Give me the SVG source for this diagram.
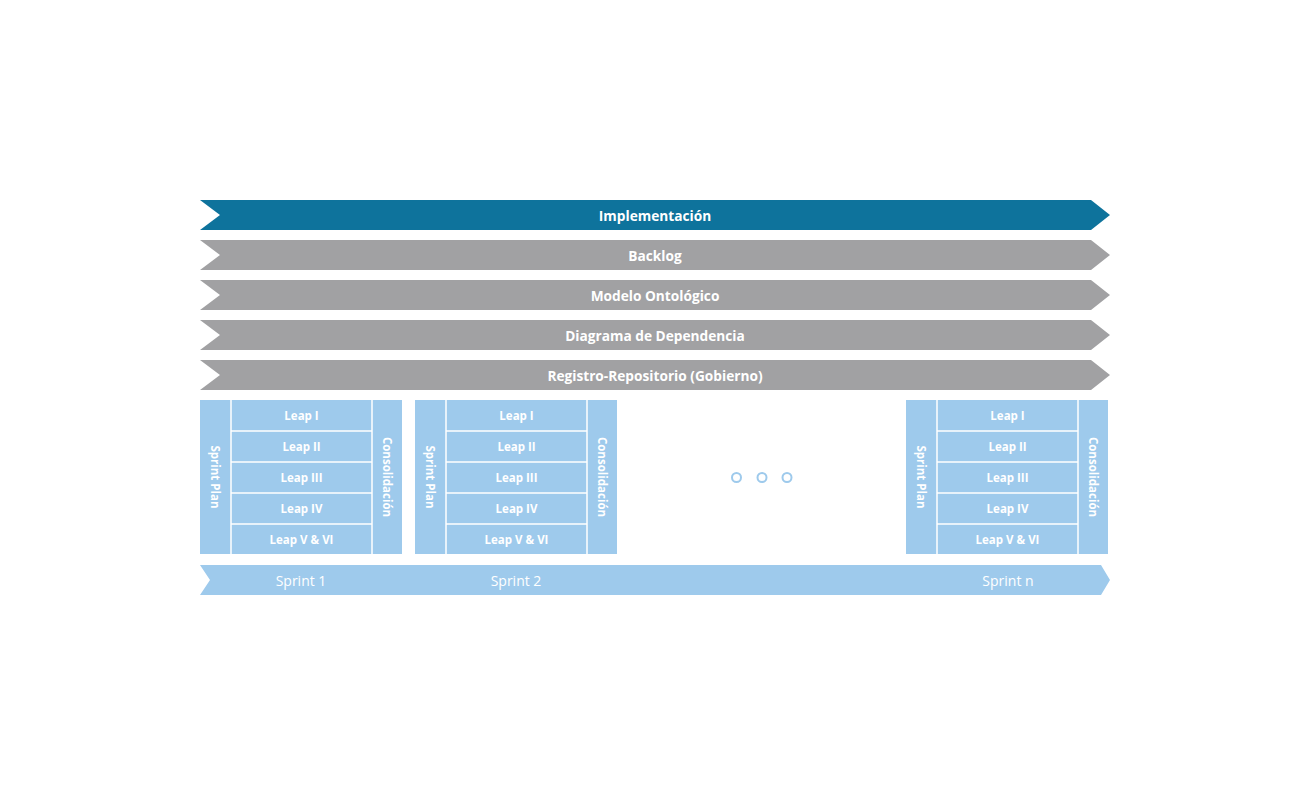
<svg xmlns="http://www.w3.org/2000/svg" width="1311" height="796" viewBox="0 0 1311 796">
<style>
.bar{fill:#a1a1a3}
.dark{fill:#0e739c}
.lb{fill:#9ecaec}
.sep{stroke:#ffffff;stroke-width:1.5;fill:none}
.bt{font-family:"Open Sans","Liberation Sans",sans-serif;font-weight:bold;font-size:13.7px;fill:#ffffff;text-anchor:middle}
.lt{font-family:"Open Sans","Liberation Sans",sans-serif;font-weight:bold;font-size:11.5px;fill:#ffffff;text-anchor:middle}
.st{font-family:"Open Sans","Liberation Sans",sans-serif;font-size:14px;fill:#ffffff;text-anchor:middle}
.dot{fill:none;stroke:#9ecaec;stroke-width:2}
</style>
<rect width="1311" height="796" fill="#ffffff"/>
<g id="implementacion">
<polygon class="dark" points="200,200 1091,200 1110,215 1091,230 200,230 220,215"/>
<text class="bt" x="655" y="220.5">Implementación</text>
</g>
<g id="backlog">
<polygon class="bar" points="200,240 1091,240 1110,255 1091,270 200,270 220,255"/>
<text class="bt" x="655" y="260.5">Backlog</text>
</g>
<g id="modelo">
<polygon class="bar" points="200,280 1091,280 1110,295 1091,310 200,310 220,295"/>
<text class="bt" x="655" y="300.5">Modelo Ontológico</text>
</g>
<g id="diagrama">
<polygon class="bar" points="200,320 1091,320 1110,335 1091,350 200,350 220,335"/>
<text class="bt" x="655" y="340.5">Diagrama de Dependencia</text>
</g>
<g id="registro">
<polygon class="bar" points="200,360 1091,360 1110,375 1091,390 200,390 220,375"/>
<text class="bt" x="655" y="380.5">Registro-Repositorio (Gobierno)</text>
</g>
<g id="sprint1">
<rect class="lb" x="200" y="400" width="202" height="154"/>
<line class="sep" x1="231" y1="400" x2="231" y2="554"/>
<line class="sep" x1="372" y1="400" x2="372" y2="554"/>
<line class="sep" x1="231" y1="431" x2="372" y2="431"/>
<line class="sep" x1="231" y1="462" x2="372" y2="462"/>
<line class="sep" x1="231" y1="493" x2="372" y2="493"/>
<line class="sep" x1="231" y1="524" x2="372" y2="524"/>
<text class="lt" x="301.5" y="420">Leap I</text>
<text class="lt" x="301.5" y="451">Leap II</text>
<text class="lt" x="301.5" y="482">Leap III</text>
<text class="lt" x="301.5" y="513">Leap IV</text>
<text class="lt" x="301.5" y="544">Leap V &amp; VI</text>
<text class="lt" transform="translate(211,477) rotate(90)">Sprint Plan</text>
<text class="lt" transform="translate(383,477) rotate(90)">Consolidación</text>
</g>
<g id="sprint2">
<rect class="lb" x="415" y="400" width="202" height="154"/>
<line class="sep" x1="446" y1="400" x2="446" y2="554"/>
<line class="sep" x1="587" y1="400" x2="587" y2="554"/>
<line class="sep" x1="446" y1="431" x2="587" y2="431"/>
<line class="sep" x1="446" y1="462" x2="587" y2="462"/>
<line class="sep" x1="446" y1="493" x2="587" y2="493"/>
<line class="sep" x1="446" y1="524" x2="587" y2="524"/>
<text class="lt" x="516.5" y="420">Leap I</text>
<text class="lt" x="516.5" y="451">Leap II</text>
<text class="lt" x="516.5" y="482">Leap III</text>
<text class="lt" x="516.5" y="513">Leap IV</text>
<text class="lt" x="516.5" y="544">Leap V &amp; VI</text>
<text class="lt" transform="translate(426,477) rotate(90)">Sprint Plan</text>
<text class="lt" transform="translate(598,477) rotate(90)">Consolidación</text>
</g>
<g id="ellipsis">
<circle class="dot" cx="736.5" cy="477.5" r="4.5"/>
<circle class="dot" cx="762" cy="477.5" r="4.5"/>
<circle class="dot" cx="787" cy="477.5" r="4.5"/>
</g>
<g id="sprintn">
<rect class="lb" x="906" y="400" width="202" height="154"/>
<line class="sep" x1="937" y1="400" x2="937" y2="554"/>
<line class="sep" x1="1078" y1="400" x2="1078" y2="554"/>
<line class="sep" x1="937" y1="431" x2="1078" y2="431"/>
<line class="sep" x1="937" y1="462" x2="1078" y2="462"/>
<line class="sep" x1="937" y1="493" x2="1078" y2="493"/>
<line class="sep" x1="937" y1="524" x2="1078" y2="524"/>
<text class="lt" x="1007.5" y="420">Leap I</text>
<text class="lt" x="1007.5" y="451">Leap II</text>
<text class="lt" x="1007.5" y="482">Leap III</text>
<text class="lt" x="1007.5" y="513">Leap IV</text>
<text class="lt" x="1007.5" y="544">Leap V &amp; VI</text>
<text class="lt" transform="translate(917,477) rotate(90)">Sprint Plan</text>
<text class="lt" transform="translate(1089,477) rotate(90)">Consolidación</text>
</g>
<g id="timeline">
<polygon class="lb" points="200,565 1101,565 1110,580 1101,595 200,595 210,580"/>
<text class="st" x="301" y="586">Sprint 1</text>
<text class="st" x="516" y="586">Sprint 2</text>
<text class="st" x="1008" y="586">Sprint n</text>
</g>
<g id="connectors"></g>
</svg>
